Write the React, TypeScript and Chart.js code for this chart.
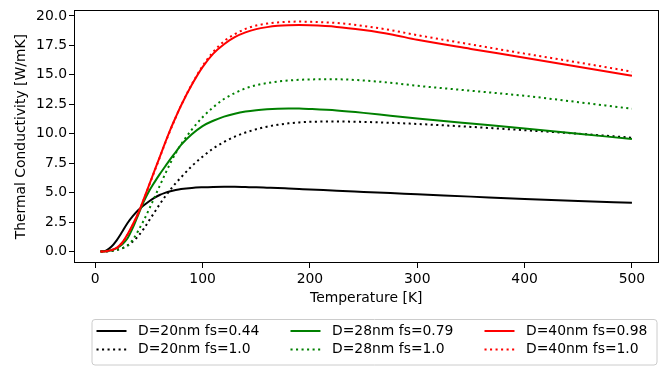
import React, { useEffect, useRef } from 'react';
import { Chart, registerables } from 'chart.js';

Chart.register(...registerables);

// Temperature grid [K]
const temperatures = [5, 10, 15, 20, 25, 30, 35, 40, 45, 50, 55, 60, 65, 70, 75, 80, 90, 100, 110, 120, 130, 140, 150, 160, 170, 180, 190, 200, 225, 250, 275, 300, 350, 400, 450, 500];

// Thermal conductivity [W/mK]
const d20fs044 = [0, 0.08, 0.4, 0.95, 1.65, 2.4, 3.0, 3.5, 3.9, 4.25, 4.55, 4.8, 4.98, 5.12, 5.22, 5.3, 5.4, 5.45, 5.48, 5.49, 5.49, 5.47, 5.45, 5.42, 5.39, 5.35, 5.31, 5.27, 5.16, 5.06, 4.96, 4.86, 4.66, 4.46, 4.29, 4.14];
const d20fs100 = [0, 0.01, 0.05, 0.13, 0.27, 0.5, 0.85, 1.3, 1.9, 2.6, 3.3, 4.0, 4.65, 5.25, 5.8, 6.3, 7.25, 8.05, 8.75, 9.3, 9.75, 10.1, 10.38, 10.6, 10.76, 10.88, 10.96, 11.01, 11.04, 11.0, 10.93, 10.83, 10.58, 10.3, 10.0, 9.66];
const d28fs079 = [0, 0.03, 0.1, 0.28, 0.6, 1.1, 2.0, 3.1, 4.2, 5.1, 5.85, 6.55, 7.2, 7.85, 8.45, 9.05, 9.95, 10.65, 11.1, 11.45, 11.7, 11.88, 12.0, 12.08, 12.13, 12.15, 12.14, 12.1, 11.97, 11.77, 11.53, 11.3, 10.87, 10.45, 10.0, 9.55];
const d28fs100 = [0, 0.02, 0.06, 0.15, 0.28, 0.5, 1.0, 1.75, 2.6, 3.55, 4.55, 5.55, 6.55, 7.5, 8.35, 9.1, 10.35, 11.4, 12.25, 12.95, 13.45, 13.85, 14.12, 14.3, 14.43, 14.52, 14.58, 14.61, 14.62, 14.52, 14.33, 14.07, 13.65, 13.22, 12.68, 12.12];
const d40fs098 = [0, 0.03, 0.12, 0.32, 0.75, 1.45, 2.3, 3.25, 4.4, 5.6, 6.8, 8.0, 9.2, 10.35, 11.4, 12.4, 14.15, 15.65, 16.8, 17.6, 18.2, 18.6, 18.88, 19.05, 19.16, 19.21, 19.22, 19.2, 19.07, 18.8, 18.45, 17.97, 17.2, 16.45, 15.68, 14.93];
const d40fs100 = [0, 0.02, 0.09, 0.27, 0.7, 1.4, 2.25, 3.2, 4.35, 5.55, 6.75, 7.95, 9.15, 10.3, 11.38, 12.4, 14.2, 15.75, 16.95, 17.85, 18.45, 18.9, 19.18, 19.35, 19.45, 19.5, 19.52, 19.5, 19.4, 19.15, 18.8, 18.37, 17.58, 16.8, 16.05, 15.27];

const xTicks = [0, 100, 200, 300, 400, 500];
const yTicks = [0, 2.5, 5, 7.5, 10, 12.5, 15, 17.5, 20];

const FONT = "'DejaVu Sans', sans-serif";
const FS = 13.9;
const DOT = [2.08, 3.44];

type Series = { label: string; values: number[]; color: string; dotted: boolean; col: number; row: number };

// plotting order (later on top in the reference)
const seriesList: Series[] = [
  { label: 'D=20nm fs=0.44', values: d20fs044, color: '#000000', dotted: false, col: 0, row: 0 },
  { label: 'D=20nm fs=1.0', values: d20fs100, color: '#000000', dotted: true, col: 0, row: 1 },
  { label: 'D=28nm fs=0.79', values: d28fs079, color: '#008000', dotted: false, col: 1, row: 0 },
  { label: 'D=28nm fs=1.0', values: d28fs100, color: '#008000', dotted: true, col: 1, row: 1 },
  { label: 'D=40nm fs=0.98', values: d40fs098, color: '#ff0000', dotted: false, col: 2, row: 0 },
  { label: 'D=40nm fs=1.0', values: d40fs100, color: '#ff0000', dotted: true, col: 2, row: 1 },
];

export default function App() {
  const ref = useRef<HTMLCanvasElement>(null);

  useEffect(() => {
    document.body.style.margin = '0';
    const canvas = ref.current;
    if (!canvas) return;

    const datasets = [...seriesList].reverse().map((s) => ({
      label: s.label,
      data: temperatures.map((t, i) => ({ x: t, y: s.values[i] })),
      borderColor: s.color,
      backgroundColor: s.color,
      borderWidth: 2,
      borderDash: s.dotted ? DOT : [],
      borderCapStyle: 'butt' as const,
      pointRadius: 0,
      pointHoverRadius: 0,
      cubicInterpolationMode: 'monotone' as const,
      fill: false,
    }));

    const framePlugin = {
      id: 'frame',
      afterDatasetsDraw(chart: any) {
        const { ctx, chartArea: a } = chart;
        ctx.save();
        ctx.strokeStyle = '#000';
        ctx.lineWidth = 1;
        ctx.setLineDash([]);
        const l = Math.round(a.left) + 0.5;
        const t = Math.round(a.top) + 0.5;
        const r = Math.round(a.right) - 0.5;
        const b = Math.round(a.bottom) - 0.5;
        ctx.strokeRect(l, t, r - l, b - t);
        ctx.restore();
      },
    };

    const legendPlugin = {
      id: 'mplLegend',
      afterDraw(chart: any) {
        const { ctx, chartArea: a } = chart;
        const left = a.left + 18;
        const right = a.right - 1.5;
        const top = a.bottom + 56.5;
        const bottom = top + 45.5;
        ctx.save();
        ctx.beginPath();
        const rad = 3;
        ctx.moveTo(left + rad, top);
        ctx.arcTo(right, top, right, bottom, rad);
        ctx.arcTo(right, bottom, left, bottom, rad);
        ctx.arcTo(left, bottom, left, top, rad);
        ctx.arcTo(left, top, right, top, rad);
        ctx.closePath();
        ctx.fillStyle = 'rgba(255,255,255,0.8)';
        ctx.fill();
        ctx.strokeStyle = '#cccccc';
        ctx.lineWidth = 1;
        ctx.stroke();

        seriesList.forEach((s) => {
          const hx = left + 4.5 + s.col * 194;
          const hy = top + 11.5 + s.row * 18.5;
          ctx.beginPath();
          ctx.setLineDash(s.dotted ? DOT : []);
          ctx.lineCap = 'butt';
          ctx.strokeStyle = s.color;
          ctx.lineWidth = 2;
          ctx.moveTo(hx, hy);
          ctx.lineTo(hx + 30, hy);
          ctx.stroke();
          ctx.setLineDash([]);
          ctx.fillStyle = '#000';
          ctx.font = `${FS}px ${FONT}`;
          ctx.textBaseline = 'middle';
          ctx.textAlign = 'left';
          ctx.fillText(s.label, hx + 41.5, hy);
        });
        ctx.restore();
      },
    };

    const chart = new Chart(canvas, {
      type: 'line',
      data: { datasets },
      plugins: [framePlugin, legendPlugin],
      options: {
        responsive: false,
        animation: false,
        devicePixelRatio: 1,
        layout: { padding: { left: 0, top: 7, right: 2.5, bottom: 61 } },
        plugins: {
          legend: { display: false },
          tooltip: { enabled: false },
        },
        scales: {
          x: {
            type: 'linear',
            min: -19.75,
            max: 524.75,
            afterBuildTicks: (s: any) => {
              s.ticks = xTicks.map((v) => ({ value: v }));
            },
            afterFit: (s: any) => {
              s.height = 42;
            },
            border: { display: false },
            grid: { drawOnChartArea: false, drawTicks: true, tickLength: 5, color: '#000', lineWidth: 1 },
            ticks: {
              autoSkip: false,
              maxRotation: 0,
              padding: 3,
              color: '#000',
              font: { family: FONT, size: FS },
              callback: (v: any) => String(v),
            },
            title: {
              display: true,
              text: 'Temperature [K]',
              color: '#000',
              font: { family: FONT, size: FS },
              padding: { top: 0, bottom: -1.5 },
            },
          },
          y: {
            type: 'linear',
            min: -0.975,
            max: 20.475,
            afterBuildTicks: (s: any) => {
              s.ticks = yTicks.map((v) => ({ value: v }));
            },
            afterFit: (s: any) => {
              s.width = 74;
            },
            border: { display: false },
            grid: { drawOnChartArea: false, drawTicks: true, tickLength: 5, color: '#000', lineWidth: 1 },
            ticks: {
              autoSkip: false,
              padding: 2,
              color: '#000',
              font: { family: FONT, size: FS },
              callback: (v: any) => Number(v).toFixed(1),
            },
            title: {
              display: true,
              text: 'Thermal Conductivity [W/mK]',
              color: '#000',
              font: { family: FONT, size: FS },
              padding: { top: 13, bottom: 0 },
            },
          },
        },
      },
    } as any);

    return () => chart.destroy();
  }, []);

  return (
    <div style={{ position: 'absolute', left: 0, top: 0, width: 661, height: 366 }}>
      <canvas ref={ref} width={661} height={366} style={{ display: 'block', width: 661, height: 366 }} />
    </div>
  );
}
